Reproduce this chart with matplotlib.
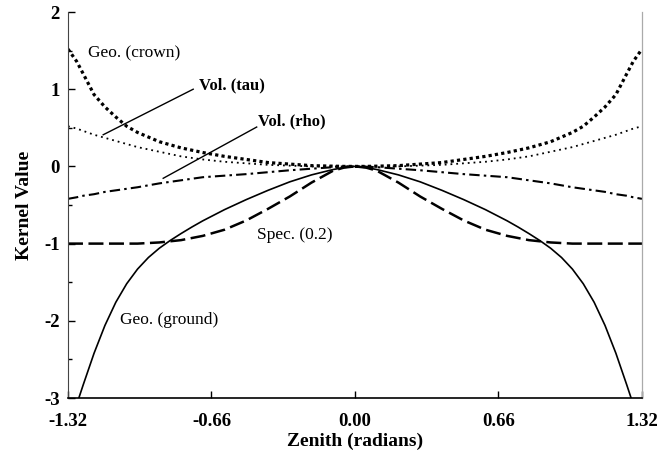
import matplotlib
matplotlib.use("Agg")
import matplotlib.pyplot as plt

plt.rcParams['font.family'] = ['Liberation Serif', 'DejaVu Serif']
plt.rcParams['axes.unicode_minus'] = False

# zenith grid (radians)
zenith = [-1.32, -1.28, -1.25, -1.2, -1.15, -1.1, -1.05, -1.0, -0.9, -0.8, -0.7, -0.6,
          -0.5, -0.4, -0.3, -0.2, -0.1, -0.05, 0.0,
          0.05, 0.1, 0.2, 0.3, 0.4, 0.5, 0.6, 0.7, 0.8, 0.9, 1.0, 1.05, 1.1, 1.15,
          1.2, 1.25, 1.28, 1.32]

geo_crown = [1.52, 1.36, 1.20, 0.93, 0.77, 0.64, 0.52, 0.44, 0.32, 0.24, 0.18, 0.13,
             0.09, 0.05, 0.03, 0.01, 0.003, 0.0, 0.0,
             0.0, 0.003, 0.01, 0.03, 0.05, 0.09, 0.13, 0.18, 0.24, 0.32, 0.44, 0.52, 0.64, 0.77,
             0.93, 1.20, 1.36, 1.52]

vol_tau = [0.52, 0.49, 0.46, 0.41, 0.37, 0.33, 0.29, 0.25, 0.19, 0.13, 0.09, 0.06,
           0.04, 0.02, 0.01, 0.0, 0.0, 0.0, 0.0,
           0.0, 0.0, 0.0, 0.01, 0.02, 0.04, 0.06, 0.09, 0.13, 0.19, 0.25, 0.29, 0.33, 0.37,
           0.41, 0.46, 0.49, 0.52]

vol_rho = [-0.42, -0.40, -0.38, -0.36, -0.33, -0.31, -0.29, -0.27, -0.22, -0.18, -0.14, -0.12,
           -0.10, -0.075, -0.05, -0.03, -0.01, -0.004, 0.0,
           -0.004, -0.01, -0.03, -0.05, -0.075, -0.10, -0.12, -0.14, -0.18, -0.22, -0.27, -0.29,
           -0.31, -0.33, -0.36, -0.38, -0.40, -0.42]

spec = [-1.0, -1.0, -1.0, -1.0, -1.0, -1.0, -1.0, -1.0, -0.985, -0.955, -0.90, -0.82,
        -0.70, -0.55, -0.39, -0.21, -0.055, -0.015, 0.0,
        -0.015, -0.055, -0.21, -0.39, -0.55, -0.70, -0.82, -0.90, -0.955, -0.985, -1.0, -1.0,
        -1.0, -1.0, -1.0, -1.0, -1.0, -1.0]

zenith_ground = [-1.27, -1.25, -1.2, -1.15, -1.1, -1.05, -1.0, -0.95, -0.9, -0.85, -0.8, -0.75,
                 -0.7, -0.6, -0.5, -0.4, -0.3, -0.2, -0.1, -0.05, 0.0,
                 0.05, 0.1, 0.2, 0.3, 0.4, 0.5, 0.6, 0.7, 0.75, 0.8, 0.85, 0.9, 0.95, 1.0,
                 1.05, 1.1, 1.15, 1.2, 1.25, 1.27]
geo_ground = [-3.0, -2.83, -2.42, -2.06, -1.76, -1.52, -1.33, -1.18, -1.06, -0.96, -0.87, -0.785,
              -0.705, -0.56, -0.43, -0.31, -0.20, -0.11, -0.04, -0.015, 0.0,
              -0.015, -0.04, -0.11, -0.20, -0.31, -0.43, -0.56, -0.705, -0.785, -0.87, -0.96,
              -1.06, -1.18, -1.33, -1.52, -1.76, -2.06, -2.42, -2.83, -3.0]

x_ticks = [-1.32, -0.66, 0.0, 0.66, 1.32]
x_ticklabels = ["-1.32", "-0.66", "0.00", "0.66", "1.32"]
y_ticks = [-3, -2, -1, 0, 1, 2]
y_ticklabels = ["-3", "-2", "-1", "0", "1", "2"]
y_minor = [-2.5, -1.5, -0.5, 0.5, 1.5]

fig = plt.figure(figsize=(6.69, 4.53), dpi=100)
ax = fig.add_axes([0.1016, 0.1214, 0.8580, 0.8521])

ax.plot(zenith, geo_crown, color='black', lw=2.3, linestyle=(0, (1.0, 1.0)))
ax.plot(zenith, vol_tau, color='black', lw=1.3, linestyle=(0, (1.0, 2.2)))
ax.plot(zenith, vol_rho, color='black', lw=1.5, linestyle=(0, (5, 2, 1.2, 2)))
ax.plot(zenith, spec, color='black', lw=1.8, linestyle=(0, (6, 2.2)))
ax.plot(zenith_ground, geo_ground, color='black', lw=1.2, linestyle='-')

ax.set_xlim(-1.32, 1.32)
ax.set_ylim(-3, 2)
ax.set_xticks(x_ticks)
ax.set_xticklabels(x_ticklabels)
ax.set_yticks(y_ticks)
ax.set_yticklabels(y_ticklabels)
ax.set_yticks(y_minor, minor=True)
ax.tick_params(axis='both', which='major', direction='in', length=5, width=1,
               labelsize=13.5)
ax.tick_params(axis='x', which='major', pad=11)
ax.tick_params(axis='y', which='major', pad=6)
ax.tick_params(axis='y', which='minor', direction='in', length=3, width=1)
for lab in ax.get_xticklabels() + ax.get_yticklabels():
    lab.set_fontweight('bold')

ax.spines['top'].set_visible(False)
ax.spines['left'].set_color('#444444')
ax.spines['right'].set_color('#aaaaaa')
ax.spines['right'].set_linewidth(0.9)
ax.spines['bottom'].set_color('black')
ax.spines['bottom'].set_linewidth(1.2)

ax.set_xlabel("Zenith (radians)", fontsize=14, fontweight='bold', labelpad=2)
ax.set_ylabel("Kernel Value", fontsize=14, fontweight='bold', labelpad=8)

ax.text(-1.228, 1.47, "Geo. (crown)", fontsize=12.5, va='center', ha='left')
ax.text(-0.718, 1.05, "Vol. (tau)", fontsize=12, fontweight='bold', va='center', ha='left')
ax.text(-0.446, 0.58, "Vol. (rho)", fontsize=12, fontweight='bold', va='center', ha='left')
ax.text(-0.452, -0.89, "Spec. (0.2)", fontsize=12.5, va='center', ha='left')
ax.text(-1.081, -1.99, "Geo. (ground)", fontsize=12.5, va='center', ha='left')

ax.plot([-1.158, -0.744], [0.41, 1.0], color='black', lw=1.0)
ax.plot([-0.882, -0.452], [-0.154, 0.51], color='black', lw=1.0)

fig.savefig("out.png", dpi=100)
